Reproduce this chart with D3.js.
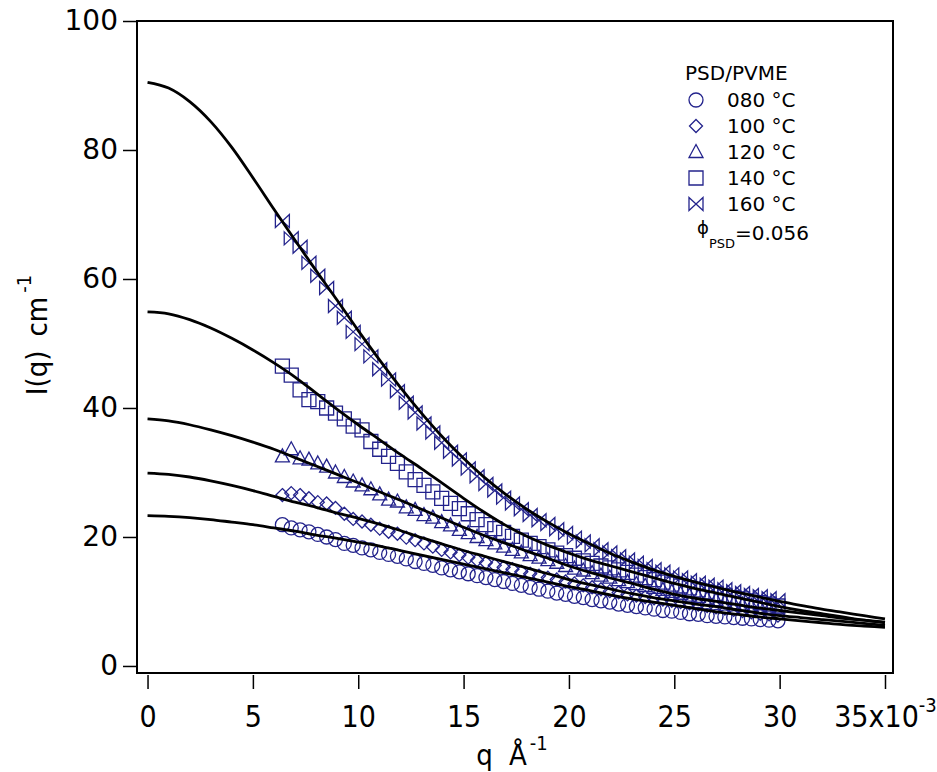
<!DOCTYPE html>
<html>
<head>
<meta charset="utf-8">
<script src="https://cdn.jsdelivr.net/npm/d3@7"></script>
<style>
  html, body { margin: 0; padding: 0; background: #fff; }
  svg { display: block; }
</style>
</head>
<body>
<svg id="chart" width="937" height="772"></svg>
<script>
// ---------- data ----------
// q in units of 1e-3 Å^-1
const qData = [6.40, 6.82, 7.24, 7.66, 8.08, 8.50, 8.92, 9.34, 9.76, 10.18,
  10.60, 11.02, 11.44, 11.86, 12.28, 12.70, 13.12, 13.54, 13.96, 14.38,
  14.80, 15.22, 15.64, 16.06, 16.48, 16.90, 17.32, 17.74, 18.16, 18.58,
  19.00, 19.42, 19.84, 20.26, 20.68, 21.10, 21.52, 21.94, 22.36, 22.78,
  23.20, 23.62, 24.04, 24.46, 24.88, 25.30, 25.72, 26.14, 26.56, 26.98,
  27.40, 27.82, 28.24, 28.66, 29.08, 29.50, 29.92];

const I080 = [21.9, 21.4, 21.1, 20.8, 20.4, 20.0, 19.6, 19.0, 18.7, 18.3,
  18.0, 17.6, 17.3, 17.0, 16.6, 16.2, 15.9, 15.6, 15.2, 14.9,
  14.6, 14.3, 14.0, 13.7, 13.4, 13.1, 12.8, 12.5, 12.2, 11.9,
  11.6, 11.3, 11.1, 10.8, 10.6, 10.3, 10.1, 9.9, 9.6, 9.4,
  9.2, 9.0, 8.8, 8.6, 8.5, 8.3, 8.1, 8.0, 7.8, 7.7,
  7.6, 7.5, 7.4, 7.3, 7.2, 7.1, 7.0];

const I100 = [26.5, 26.8, 26.5, 26.0, 25.4, 25.2, 24.5, 23.6, 22.8, 22.4,
  21.9, 21.3, 20.8, 20.5, 19.9, 19.5, 19.0, 18.5, 18.0, 17.6,
  17.2, 16.8, 16.4, 16.0, 15.6, 15.3, 15.0, 14.6, 14.3, 14.0,
  13.7, 13.4, 13.1, 12.8, 12.5, 12.2, 11.9, 11.6, 11.4, 11.1,
  10.9, 10.7, 10.5, 10.3, 10.1, 9.9, 9.7, 9.5, 9.3, 9.1,
  8.9, 8.7, 8.5, 8.3, 8.1, 8.0, 7.8];

const I120 = [32.5, 33.6, 32.2, 32.0, 31.4, 30.9, 30.0, 29.3, 28.6, 28.0,
  27.4, 26.6, 25.8, 25.5, 24.6, 24.2, 23.4, 23.0, 22.3, 21.8,
  21.1, 20.6, 20.0, 19.5, 19.0, 18.5, 18.0, 17.6, 17.2, 16.8,
  16.4, 16.0, 15.5, 15.1, 14.8, 14.4, 14.0, 13.7, 13.3, 13.0,
  12.7, 12.4, 12.1, 11.8, 11.5, 11.2, 10.9, 10.7, 10.4, 10.2,
  9.9, 9.7, 9.5, 9.3, 9.1, 8.9, 8.7];

const I140 = [46.5, 45.1, 42.8, 41.3, 41.0, 40.0, 39.2, 38.3, 37.2, 36.6,
  34.8, 33.6, 32.5, 31.4, 30.1, 28.9, 28.0, 27.0, 26.0, 25.2,
  24.4, 23.6, 22.7, 21.9, 21.3, 20.7, 20.1, 19.5, 19.0, 18.5,
  18.0, 17.5, 17.1, 16.7, 16.3, 15.9, 15.5, 15.2, 14.9, 14.5,
  14.1, 13.7, 13.4, 13.0, 12.7, 12.4, 12.1, 11.8, 11.5, 11.2,
  10.9, 10.6, 10.4, 10.1, 9.8, 9.6, 9.3];

const I160 = [69.0, 66.3, 65.0, 62.5, 60.5, 58.6, 55.8, 54.0, 51.8, 49.9,
  48.0, 46.0, 44.4, 42.6, 40.8, 39.3, 37.6, 36.2, 34.6, 33.2,
  32.0, 30.6, 29.4, 28.2, 27.2, 26.1, 25.2, 24.3, 23.4, 22.6,
  22.0, 21.2, 20.6, 19.9, 19.3, 18.7, 18.1, 17.6, 17.0, 16.5,
  16.0, 15.5, 15.0, 14.6, 14.2, 13.7, 13.3, 12.9, 12.6, 12.3,
  11.9, 11.6, 11.3, 11.0, 10.8, 10.5, 10.2];

// fitted curves, q = 0 … 35 (x1e-3)
const qFit = [0, 1, 2, 3, 4, 5, 6, 7, 8, 9, 10, 11, 12, 13, 14, 15, 16, 17,
  18, 19, 20, 21, 22, 23, 24, 25, 26, 27, 28, 29, 30, 31, 32, 33, 34, 35];
const fit080 = [23.3, 23.2, 23.0, 22.7, 22.3, 21.9, 21.4, 20.9, 20.3, 19.8, 19.2, 18.6,
  17.9, 17.2, 16.5, 15.8, 15.1, 14.4, 13.7, 13.0, 12.3, 11.7, 11.0, 10.4,
  9.9, 9.4, 8.9, 8.4, 8.0, 7.6, 7.3, 7.0, 6.7, 6.4, 6.2, 6.0];
const fit100 = [29.9, 29.7, 29.3, 28.7, 28.0, 27.2, 26.3, 25.4, 24.6, 23.7, 22.9, 22.0,
  21.0, 19.9, 18.9, 17.9, 17.0, 16.1, 15.2, 14.3, 13.4, 12.6, 11.9, 11.2,
  10.6, 10.1, 9.6, 9.2, 8.7, 8.2, 7.8, 7.5, 7.2, 6.9, 6.6, 6.3];
const fit120 = [38.3, 38.0, 37.4, 36.6, 35.7, 34.7, 33.6, 32.3, 31.0, 29.7, 28.4, 27.0,
  25.7, 24.3, 22.9, 21.5, 20.2, 19.0, 17.8, 16.7, 15.5, 14.5, 13.6, 12.8,
  11.9, 11.1, 10.5, 10.0, 9.5, 9.0, 8.6, 8.2, 7.8, 7.4, 7.1, 6.8];
const fit140 = [54.9, 54.6, 53.7, 52.4, 50.8, 49.0, 47.0, 44.8, 42.3, 39.8, 37.4, 35.1,
  32.8, 30.6, 28.3, 26.0, 23.8, 21.8, 20.1, 18.7, 17.5, 16.4, 15.5, 14.6,
  13.7, 12.8, 12.0, 11.3, 10.6, 9.9, 9.2, 8.6, 8.1, 7.6, 7.1, 6.7];
const fit160 = [90.5, 89.6, 87.5, 84.4, 80.4, 75.7, 70.8, 66.0, 61.3, 56.7, 52.0, 47.5,
  43.2, 39.2, 35.5, 32.2, 29.2, 26.6, 24.3, 22.3, 20.5, 18.9, 17.4, 16.1,
  14.9, 13.9, 13.0, 12.2, 11.4, 10.7, 10.0, 9.4, 8.8, 8.3, 7.8, 7.3];

const seriesNames = ["080 °C", "100 °C", "120 °C", "140 °C", "160 °C"];
const seriesSymbols = ["circle", "diamond", "triangle", "square", "bowtie"];
const seriesData = [I080, I100, I120, I140, I160];
const seriesFits = [fit080, fit100, fit120, fit140, fit160];

const xTicks = [0, 5, 10, 15, 20, 25, 30, 35];
const xTickLabels = ["0", "5", "10", "15", "20", "25", "30", "35x10"];
const yTicks = [0, 20, 40, 60, 80, 100];
const legendTitle = "PSD/PVME";

// ---------- drawing ----------
const svg = d3.select("#chart");
const markerColor = "#23238c";
const narrow = "'Liberation Sans Narrow', 'DejaVu Sans Condensed', sans-serif";
const wide = "'DejaVu Sans', sans-serif";

const x = d3.scaleLinear().domain([-0.5, 35.38]).range([137, 893]);
const y = d3.scaleLinear().domain([-1.09, 100]).range([673, 21]);

function symbolPath(type) {
  switch (type) {
    case "circle": return "M7,0A7,7 0 1,1 -7,0A7,7 0 1,1 7,0Z";
    case "diamond": return "M0,-6.5L6.5,0L0,6.5L-6.5,0Z";
    case "triangle": return "M0,-7.5L7,5.5L-7,5.5Z";
    case "square": return "M-7,-7L7,-7L7,7L-7,7Z";
    case "bowtie": return "M-7,-6.5L7,6.5L7,-6.5L-7,6.5Z";
  }
}

// markers
const plot = svg.append("g");
seriesData.forEach((vals, i) => {
  plot.append("g")
    .selectAll("path")
    .data(qData.map((q, j) => [q, vals[j]]))
    .join("path")
    .attr("transform", d => `translate(${x(d[0])},${y(d[1])})`)
    .attr("d", symbolPath(seriesSymbols[i]))
    .attr("fill", "none")
    .attr("stroke", markerColor)
    .attr("stroke-width", 1.3);
});

// fit lines
const line = d3.line().x(d => x(d[0])).y(d => y(d[1])).curve(d3.curveMonotoneX);
seriesFits.forEach(f => {
  plot.append("path")
    .datum(qFit.map((q, j) => [q, f[j]]))
    .attr("d", line)
    .attr("fill", "none")
    .attr("stroke", "#000")
    .attr("stroke-width", 2.8)
    .attr("stroke-linejoin", "round");
});

// frame
svg.append("rect")
  .attr("x", x.range()[0]).attr("y", y.range()[1])
  .attr("width", x.range()[1] - x.range()[0])
  .attr("height", y.range()[0] - y.range()[1])
  .attr("fill", "none").attr("stroke", "#000").attr("stroke-width", 2);

// y axis
const yAxis = svg.append("g")
  .attr("transform", `translate(${x.range()[0]},0)`)
  .call(d3.axisLeft(y).tickValues(yTicks).tickSize(14).tickPadding(5));
yAxis.select(".domain").remove();
yAxis.selectAll(".tick line").attr("stroke", "#000").attr("stroke-width", 1.5);
yAxis.selectAll(".tick text")
  .attr("fill", "#000")
  .style("font-family", wide)
  .style("font-size", "28px");

// x axis
const xAxis = svg.append("g")
  .attr("transform", `translate(0,675)`)
  .call(d3.axisBottom(x).tickValues(xTicks).tickSize(14));
xAxis.select(".domain").remove();
xAxis.selectAll(".tick line").attr("stroke", "#000").attr("stroke-width", 1.5);
xAxis.selectAll(".tick text")
  .attr("fill", "#000")
  .attr("y", 52).attr("dy", null)
  .style("font-family", narrow)
  .style("font-size", "30px")
  .each(function(d, i) {
    const t = d3.select(this);
    t.text(xTickLabels[i]);
    if (i === xTicks.length - 1) {
      t.append("tspan").attr("dy", -15).style("font-size", "20px").text("-3");
    }
  });

// x axis title
const xt = svg.append("text")
  .attr("x", 512).attr("y", 765)
  .attr("text-anchor", "middle")
  .style("font-family", narrow).style("font-size", "29px").attr("fill", "#000");
xt.append("tspan").text("q");
xt.append("tspan").attr("dx", 16).text("Å");
xt.append("tspan").attr("dy", -15).attr("dx", 3).style("font-size", "20px").text("-1");

// y axis title
const yt = svg.append("text")
  .attr("transform", "translate(47,335) rotate(-90)")
  .attr("text-anchor", "middle")
  .style("font-family", narrow).style("font-size", "29px").attr("fill", "#000");
yt.append("tspan").text("I(q)");
yt.append("tspan").attr("dx", 14).text("cm");
yt.append("tspan").attr("dy", -16).attr("dx", 4).style("font-size", "20px").text("-1");

// legend
const lg = svg.append("g");
lg.append("text").attr("x", 685).attr("y", 80)
  .style("font-family", wide).style("font-size", "20px").attr("fill", "#000")
  .text(legendTitle);
const rowY = [100, 126, 152, 178, 204];
seriesNames.forEach((name, i) => {
  lg.append("path")
    .attr("transform", `translate(696,${rowY[i]})`)
    .attr("d", symbolPath(seriesSymbols[i]))
    .attr("fill", "none").attr("stroke", markerColor).attr("stroke-width", 1.3);
  lg.append("text").attr("x", 727).attr("y", rowY[i] + 7)
    .style("font-family", wide).style("font-size", "20px").attr("fill", "#000")
    .text(name);
});
const phi = lg.append("text").attr("x", 697).attr("y", 234)
  .style("font-family", wide).style("font-size", "18px").attr("fill", "#000");
phi.append("tspan").text("ϕ");
phi.append("tspan").attr("dy", 14).style("font-size", "13px").text("PSD");
phi.append("tspan").attr("dy", -8).style("font-size", "20px").text("=0.056");
</script>
</body>
</html>
